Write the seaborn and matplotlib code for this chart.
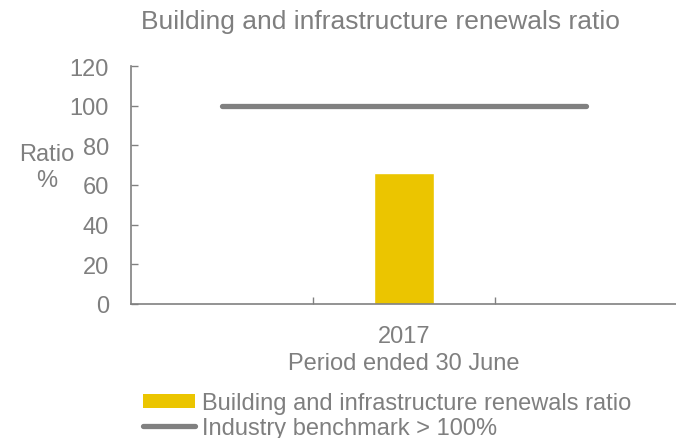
import matplotlib
matplotlib.use("Agg")
import matplotlib.pyplot as plt
import seaborn as sns
import numpy as np
import pandas as pd
from matplotlib.patches import Patch
from matplotlib.lines import Line2D

categories = ["", "2017", " "]
renewals_ratio = [np.nan, 66, np.nan]
benchmark = [100, 100, 100]
y_ticks = [0, 20, 40, 60, 80, 100, 120]

title = "Building and infrastructure renewals ratio"
x_label = "Period ended 30 June"
bar_label = "Building and infrastructure renewals ratio"
line_label = "Industry benchmark > 100%"

YELLOW = "#EBC500"
GRAY = "#808080"
TEXT = "#7F7F7F"

sns.set_theme(style="white")
plt.rcParams["font.family"] = ["Liberation Sans", "DejaVu Sans"]

fig = plt.figure(figsize=(6.76, 4.39), dpi=100)
ax = fig.add_axes([131/676, 1-305/439, 546/676, 238/439])

df = pd.DataFrame({"cat": categories, "val": renewals_ratio})
sns.barplot(data=df, x="cat", y="val", order=categories, color=YELLOW,
            width=0.33, saturation=1, ax=ax, errorbar=None)
ax.plot(range(len(categories)), benchmark, color=GRAY, lw=3.8,
        solid_capstyle="round")

ax.set_xlim(-0.5, 2.5)
ax.set_ylim(0, 120)
ax.set_yticks(y_ticks)
ax.tick_params(axis="y", left=True, direction="in", length=5, width=1,
               color=GRAY, labelsize=17, labelcolor=TEXT, pad=16)
ax.set_xticks(range(len(categories)))
ax.set_xticklabels(categories)
ax.tick_params(axis="x", which="major", bottom=True, length=0, labelsize=17,
               labelcolor=TEXT, pad=15)
ax.set_xticks([0.5, 1.5], minor=True)
ax.tick_params(axis="x", which="minor", bottom=True, direction="in",
               length=5, width=1, color=GRAY)

for s in ["top", "right"]:
    ax.spines[s].set_visible(False)
for s in ["left", "bottom"]:
    ax.spines[s].set_color(GRAY)
    ax.spines[s].set_linewidth(1.2)

ax.set_xlabel(x_label, fontsize=17, color=TEXT, labelpad=4)
ax.set_ylabel("Ratio\n%", rotation=0, fontsize=17, color=TEXT,
              ha="center", va="center", linespacing=1.25)
ax.yaxis.set_label_coords(-0.154, 0.576)

fig.text(380/676, 1-22/439, title, ha="center", va="center",
         fontsize=19, color=TEXT)

handles = [Patch(facecolor=YELLOW, edgecolor="none"),
           Line2D([0], [0], color=GRAY, lw=3.8, solid_capstyle="round")]
leg = fig.legend(handles, [bar_label, line_label], loc="upper left",
                 bbox_to_anchor=(141/676, 1-391/439), frameon=False,
                 fontsize=17, handlelength=2.2, handleheight=0.55,
                 handletextpad=0.3, labelspacing=0.12, borderaxespad=0,
                 borderpad=0.1)
for t in leg.get_texts():
    t.set_color(TEXT)

fig.savefig("out.png", dpi=100)
